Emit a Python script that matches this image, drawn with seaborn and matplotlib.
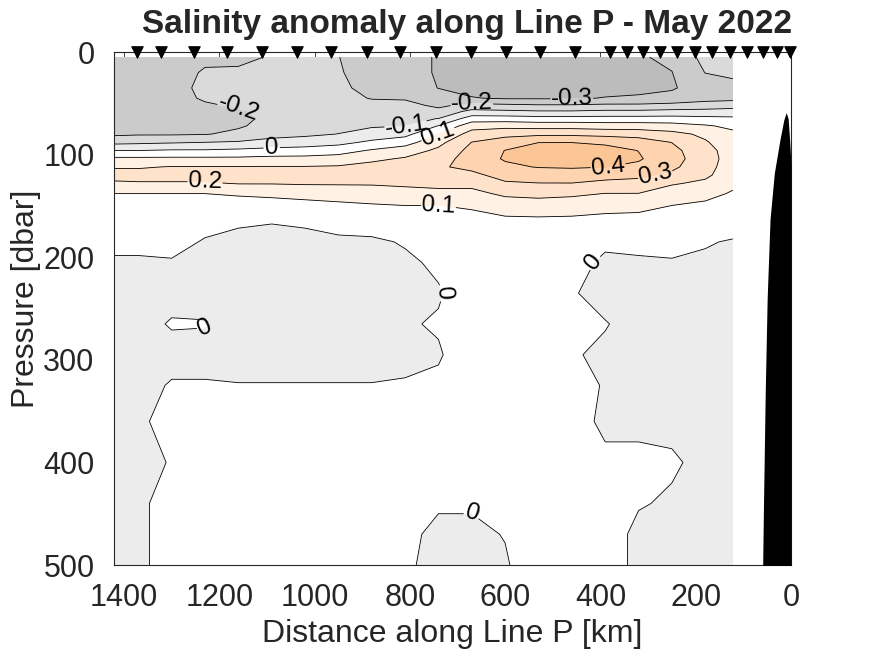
import numpy as np
import matplotlib
matplotlib.use("Agg")
import matplotlib.pyplot as plt
import seaborn as sns

# gridded section: one profile per distance (km), values at each pressure (dbar)
distance_km = [1440, 1370, 1300, 1230, 1160, 1090, 1020, 950, 880, 810,
               740, 670, 600, 530, 460, 390, 320, 250, 180, 122]
pressure_dbar = [5, 20, 35, 45, 52, 58, 65, 72, 80, 88, 96, 104, 112, 120, 128,
                 138, 150, 165, 185, 205, 235, 265, 295, 325, 360, 400, 440, 470, 500]

anomaly_profiles = [
    [-0.25, -0.25, -0.24, -0.24, -0.24, -0.24, -0.23, -0.23, -0.22, -0.13, 0.00, 0.12, 0.19, 0.24, 0.18, 0.10, 0.07, 0.05, 0.02, -0.01, -0.03, -0.03, -0.03, -0.03, -0.03, -0.03, -0.03, -0.03, -0.03],
    [-0.25, -0.24, -0.24, -0.23, -0.23, -0.23, -0.23, -0.22, -0.21, -0.12, 0.00, 0.12, 0.19, 0.24, 0.19, 0.10, 0.07, 0.05, 0.02, -0.01, -0.03, -0.02, -0.03, -0.02, -0.01, -0.01, -0.01, -0.01, -0.01],
    [-0.24, -0.24, -0.23, -0.23, -0.23, -0.23, -0.22, -0.22, -0.21, -0.11, 0.01, 0.12, 0.205, 0.24, 0.19, 0.10, 0.07, 0.05, 0.02, -0.005, -0.02, 0.005, -0.02, 0.005, 0.02, 0.002, 0.02, 0.02, 0.02],
    [-0.22, -0.19, -0.18, -0.19, -0.21, -0.22, -0.22, -0.22, -0.205, -0.10, 0.01, 0.12, 0.205, 0.24, 0.19, 0.10, 0.06, 0.02, -0.005, -0.02, -0.02, 0.003, -0.02, 0.005, 0.02, 0.02, 0.02, 0.02, 0.02],
    [-0.23, -0.18, -0.17, -0.18, -0.19, -0.21, -0.22, -0.21, -0.18, -0.09, 0.02, 0.12, 0.205, 0.24, 0.205, 0.11, 0.06, 0.005, -0.01, -0.02, -0.02, -0.02, -0.02, 0.002, 0.02, 0.02, 0.02, 0.02, 0.02],
    [-0.19, -0.16, -0.15, -0.16, -0.17, -0.18, -0.18, -0.17, -0.14, -0.06, 0.03, 0.13, 0.205, 0.24, 0.205, 0.12, 0.06, 0.003, -0.02, -0.03, -0.03, -0.03, -0.02, 0.002, 0.02, 0.02, 0.02, 0.02, 0.02],
    [-0.15, -0.15, -0.15, -0.15, -0.16, -0.16, -0.16, -0.15, -0.12, -0.05, 0.04, 0.13, 0.205, 0.24, 0.21, 0.13, 0.07, 0.01, -0.02, -0.03, -0.03, -0.03, -0.02, 0.002, 0.02, 0.02, 0.02, 0.02, 0.02],
    [-0.198, -0.19, -0.18, -0.17, -0.16, -0.16, -0.15, -0.13, -0.098, -0.03, 0.06, 0.14, 0.21, 0.24, 0.21, 0.14, 0.08, 0.02, -0.01, -0.03, -0.03, -0.03, -0.02, 0.002, 0.02, 0.02, 0.02, 0.02, 0.02],
    [-0.25, -0.25, -0.23, -0.205, -0.17, -0.15, -0.13, -0.11, -0.06, 0.02, 0.11, 0.18, 0.23, 0.25, 0.21, 0.15, 0.09, 0.03, -0.01, -0.03, -0.03, -0.03, -0.02, 0.002, 0.02, 0.02, 0.02, 0.02, 0.02],
    [-0.26, -0.26, -0.25, -0.21, -0.17, -0.14, -0.12, -0.102, -0.03, 0.06, 0.15, 0.21, 0.25, 0.26, 0.22, 0.16, 0.098, 0.04, 0.005, -0.01, -0.02, -0.005, -0.015, 0.005, 0.02, 0.02, 0.02, 0.01, 0.005],
    [-0.31, -0.31, -0.302, -0.26, -0.22, -0.17, -0.098, 0.003, 0.102, 0.17, 0.22, 0.26, 0.29, 0.28, 0.23, 0.17, 0.098, 0.06, 0.03, 0.01, -0.005, 0.005, -0.005, 0.01, 0.02, 0.02, 0.005, -0.01, -0.01],
    [-0.33, -0.34, -0.33, -0.295, -0.17, -0.07, 0.05, 0.16, 0.24, 0.302, 0.33, 0.34, 0.32, 0.28, 0.23, 0.17, 0.11, 0.07, 0.04, 0.03, 0.03, 0.03, 0.03, 0.03, 0.02, 0.02, 0.005, -0.01, -0.01],
    [-0.34, -0.35, -0.34, -0.31, -0.18, -0.08, 0.05, 0.17, 0.27, 0.35, 0.402, 0.41, 0.38, 0.33, 0.29, 0.22, 0.14, 0.08, 0.05, 0.04, 0.04, 0.04, 0.04, 0.04, 0.03, 0.03, 0.02, 0.002, -0.005],
    [-0.35, -0.36, -0.35, -0.31, -0.19, -0.09, 0.04, 0.16, 0.28, 0.398, 0.45, 0.46, 0.405, 0.34, 0.298, 0.23, 0.15, 0.08, 0.05, 0.04, 0.04, 0.04, 0.04, 0.04, 0.04, 0.03, 0.03, 0.03, 0.03],
    [-0.35, -0.36, -0.35, -0.31, -0.19, -0.09, 0.04, 0.16, 0.28, 0.398, 0.46, 0.46, 0.41, 0.35, 0.298, 0.22, 0.14, 0.08, 0.05, 0.02, 0.005, 0.01, 0.005, 0.01, 0.02, 0.02, 0.02, 0.03, 0.03],
    [-0.33, -0.34, -0.33, -0.296, -0.18, -0.08, 0.04, 0.15, 0.27, 0.38, 0.44, 0.44, 0.402, 0.33, 0.28, 0.198, 0.13, 0.07, 0.01, -0.01, -0.02, 0.003, -0.01, -0.002, -0.01, 0.01, 0.02, 0.02, 0.02],
    [-0.31, -0.32, -0.32, -0.29, -0.18, -0.08, 0.04, 0.15, 0.26, 0.35, 0.398, 0.41, 0.38, 0.32, 0.27, 0.198, 0.13, 0.06, 0.02, -0.01, -0.02, -0.02, -0.02, -0.02, -0.01, 0.01, 0.003, -0.01, -0.01],
    [-0.28, -0.302, -0.31, -0.27, -0.17, -0.07, 0.04, 0.14, 0.23, 0.298, 0.33, 0.34, 0.32, 0.28, 0.21, 0.15, 0.098, 0.05, 0.02, -0.005, -0.02, -0.02, -0.02, -0.02, -0.01, 0.005, -0.005, -0.01, -0.01],
    [-0.17, -0.198, -0.25, -0.24, -0.15, -0.07, 0.03, 0.11, 0.18, 0.21, 0.23, 0.24, 0.235, 0.22, 0.18, 0.13, 0.08, 0.04, 0.005, -0.01, -0.02, -0.02, -0.02, -0.02, -0.02, -0.01, -0.01, -0.01, -0.01],
    [-0.15, -0.18, -0.23, -0.23, -0.14, -0.06, 0.02, 0.08, 0.12, 0.14, 0.16, 0.16, 0.15, 0.14, 0.12, 0.09, 0.06, 0.03, -0.005, -0.02, -0.02, -0.02, -0.02, -0.02, -0.02, -0.02, -0.02, -0.02, -0.02],
]

contour_levels = [-0.3, -0.2, -0.1, 0.0, 0.1, 0.2, 0.3, 0.4]

# CTD stations along the line (triangles on top)
station_km = [1373, 1322, 1253, 1184, 1110, 1036, 965, 891, 820, 746, 671, 599,
              526, 454, 380, 345, 311, 275, 240, 202, 166, 128, 92, 59, 29, 2]

# bottom topography near the coast
bathy_km = [60, 58, 54, 50, 44, 35, 23, 15, 10, 6, 3, 0]
bathy_dbar = [520, 450, 330, 240, 163, 118, 85, 66, 59, 65, 85, 110]

fill_colors = ["#bcbcbc", "#cbcbcb", "#dadada", "#ececec", "#ffffff",
               "#fff1e4", "#fee2ca", "#fdd3b0", "#fcc596"]

sns.set_theme(style="white")
plt.rcParams["font.family"] = ["Liberation Sans", "DejaVu Sans"]

fig = plt.figure(figsize=(8.75, 6.56), dpi=100)
ax = fig.add_axes([0.1303, 0.1387, 0.7737, 0.782])

X, Y = np.meshgrid(distance_km, pressure_dbar)
Z = np.array(anomaly_profiles).T

ax.contourf(X, Y, Z, levels=[-1] + contour_levels + [1], colors=fill_colors)
cs = ax.contour(X, Y, Z, levels=contour_levels, colors="#000000",
                linewidths=0.6, linestyles="solid")
ax.clabel(cs, fmt="%g", fontsize=17.5, inline=True, inline_spacing=2)

ax.fill_between(bathy_km, bathy_dbar, 520, color="#000000", lw=0, zorder=3)

sns.scatterplot(x=station_km, y=[0] * len(station_km), marker="v", color="#000000",
                s=70, edgecolor="#000000", ax=ax, clip_on=False, zorder=6, legend=False)

ax.set_xlim(1421, 0)
ax.set_ylim(500, 0)
ax.set_xticks([1400, 1200, 1000, 800, 600, 400, 200, 0])
ax.set_yticks([0, 100, 200, 300, 400, 500])
ax.tick_params(direction="in", length=5, width=0.6, labelsize=22, colors="#262626",
               top=True, right=True, bottom=True, left=True)
ax.tick_params(axis="x", pad=13)
ax.tick_params(axis="y", pad=14)
for s in ax.spines.values():
    s.set_color("#262626")
    s.set_linewidth(0.8)

ax.set_xlabel("Distance along Line P [km]", fontsize=23, color="#262626", labelpad=4)
ax.set_ylabel("Pressure [dbar]", fontsize=23, color="#262626")
ax.yaxis.set_label_coords(-0.108, 0.518)
ax.set_title("Salinity anomaly along Line P - May 2022", fontsize=24,
             fontweight="bold", x=0.522, pad=14)

fig.savefig("out.png", dpi=100)
